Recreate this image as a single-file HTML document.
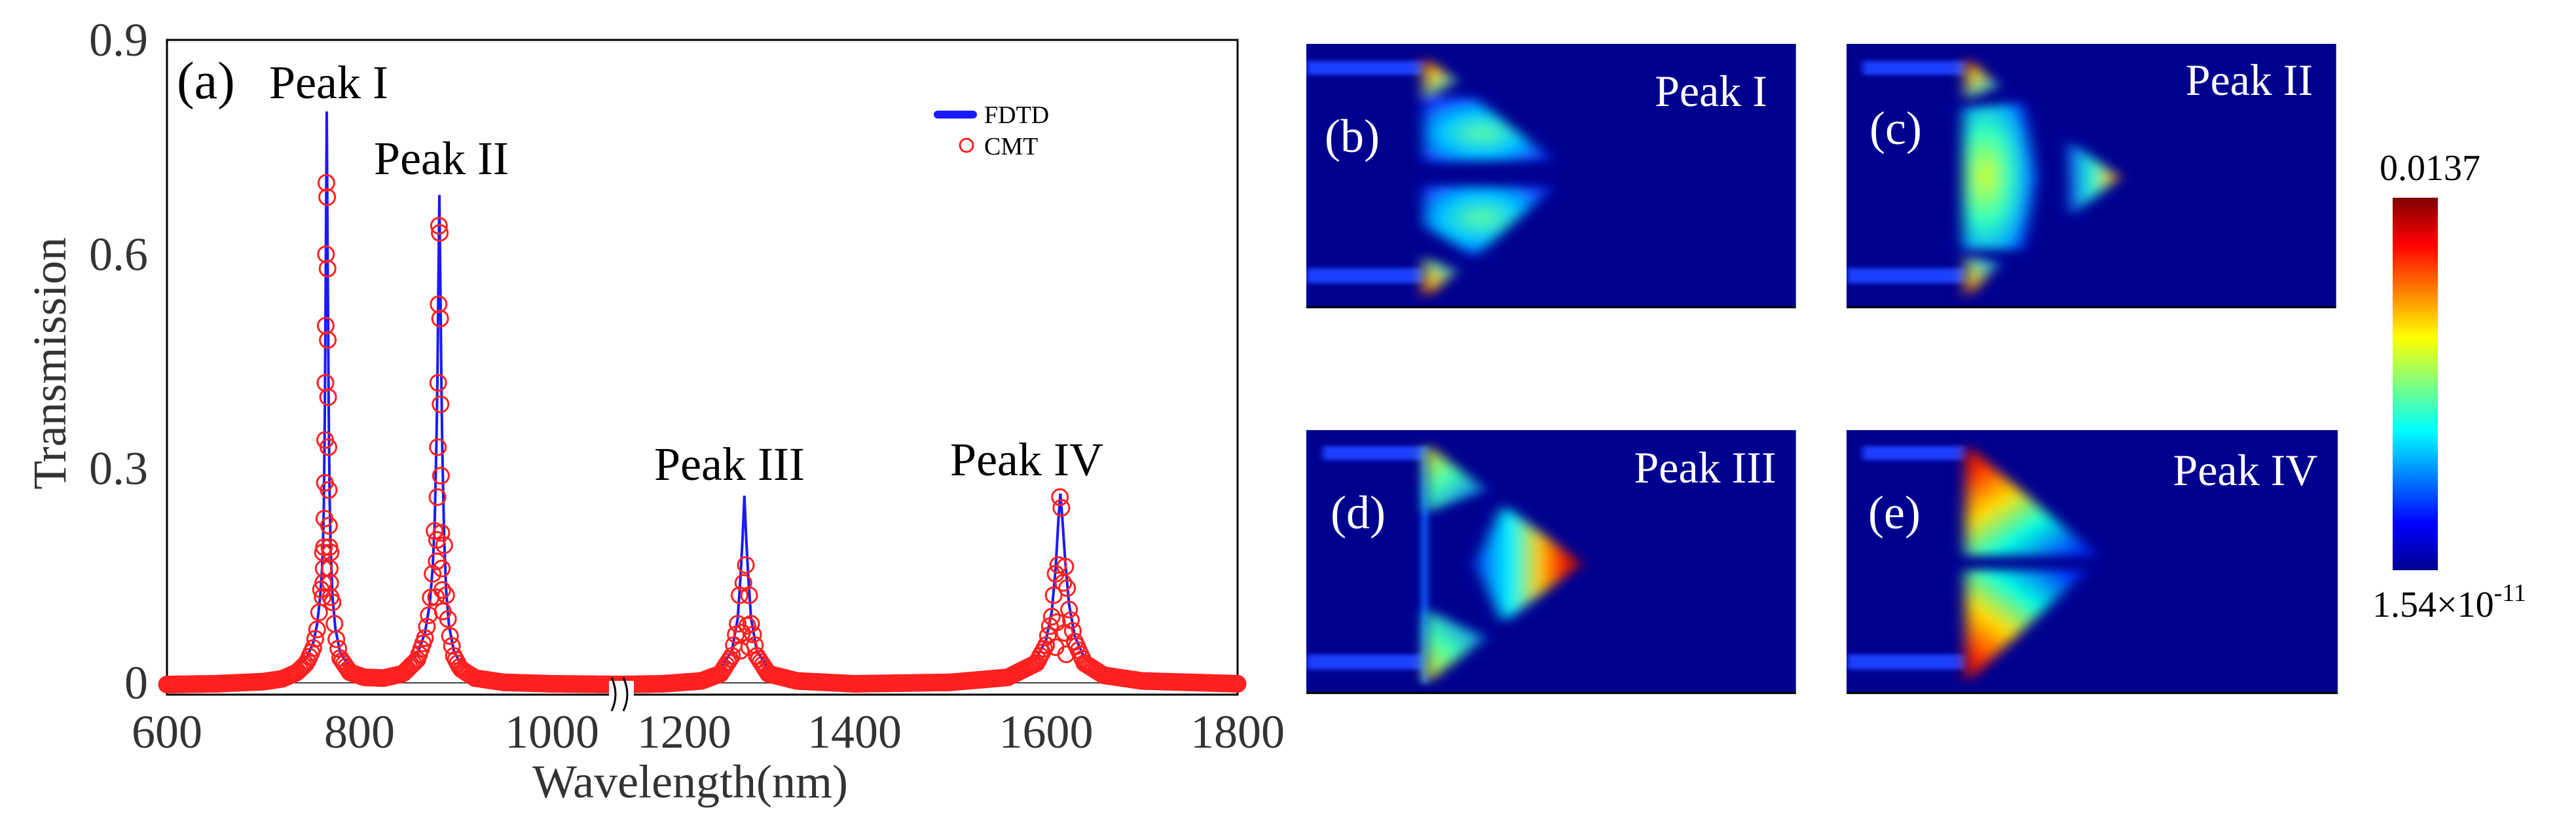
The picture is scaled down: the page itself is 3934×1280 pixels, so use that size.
<!DOCTYPE html>
<html><head><meta charset="utf-8"><style>
html,body{margin:0;padding:0;background:#fff;}
svg{display:block;font-family:"Liberation Serif",serif;}
</style></head><body>
<svg width="3934" height="1280" viewBox="0 0 3934 1280">
<defs>
<linearGradient id="jet" x1="0" y1="1" x2="0" y2="0">
<stop offset="0" stop-color="#00008f"/><stop offset="0.125" stop-color="#0000ff"/><stop offset="0.375" stop-color="#00ffff"/><stop offset="0.625" stop-color="#ffff00"/><stop offset="0.875" stop-color="#ff0000"/><stop offset="1" stop-color="#800000"/>
</linearGradient>
<filter id="bl" x="-40%" y="-40%" width="180%" height="180%"><feGaussianBlur stdDeviation="9"/></filter>
<filter id="bls" x="-40%" y="-40%" width="180%" height="180%"><feGaussianBlur stdDeviation="4"/></filter>
<radialGradient id="lobeB" cx="0.45" cy="0.55" r="0.6"><stop offset="0" stop-color="#60ffa0"/><stop offset="0.5" stop-color="#00c8ff"/><stop offset="1" stop-color="#1030ff"/></radialGradient>
<radialGradient id="lobeB2" cx="0.45" cy="0.45" r="0.6"><stop offset="0" stop-color="#60ffa0"/><stop offset="0.5" stop-color="#00c8ff"/><stop offset="1" stop-color="#1030ff"/></radialGradient>
<linearGradient id="tipTop" x1="0" y1="0" x2="0.6" y2="1"><stop offset="0" stop-color="#ff1000"/><stop offset="0.4" stop-color="#ffd000"/><stop offset="1" stop-color="#00c0ff"/></linearGradient>
<linearGradient id="tipBot" x1="0" y1="1" x2="0.6" y2="0"><stop offset="0" stop-color="#ff1000"/><stop offset="0.4" stop-color="#ffd000"/><stop offset="1" stop-color="#00c0ff"/></linearGradient>
<radialGradient id="bigC" cx="0.3" cy="0.5" r="0.7"><stop offset="0" stop-color="#e0ff20"/><stop offset="0.45" stop-color="#30ffc0"/><stop offset="0.8" stop-color="#00a0ff"/><stop offset="1" stop-color="#1020ff"/></radialGradient>
<linearGradient id="triC" x1="0" y1="0" x2="1" y2="0"><stop offset="0" stop-color="#1060ff"/><stop offset="0.5" stop-color="#20ffd0"/><stop offset="0.85" stop-color="#ffc000"/><stop offset="1" stop-color="#ff3000"/></linearGradient>
<linearGradient id="triD" x1="0" y1="0" x2="1" y2="0"><stop offset="0" stop-color="#0040ff"/><stop offset="0.35" stop-color="#00ffff"/><stop offset="0.6" stop-color="#ffd000"/><stop offset="0.8" stop-color="#ff2000"/><stop offset="1" stop-color="#a00000"/></linearGradient>
<linearGradient id="lobeDt" x1="0" y1="0" x2="0.7" y2="1"><stop offset="0" stop-color="#ffe000"/><stop offset="0.5" stop-color="#40ffb0"/><stop offset="1" stop-color="#0060ff"/></linearGradient>
<linearGradient id="lobeDb" x1="0" y1="1" x2="0.7" y2="0"><stop offset="0" stop-color="#ffe000"/><stop offset="0.5" stop-color="#40ffb0"/><stop offset="1" stop-color="#0060ff"/></linearGradient>
<linearGradient id="eTop" x1="0" y1="0" x2="0.8" y2="1"><stop offset="0" stop-color="#c00000"/><stop offset="0.2" stop-color="#ff3000"/><stop offset="0.45" stop-color="#ffe000"/><stop offset="0.7" stop-color="#00ffe0"/><stop offset="1" stop-color="#0030ff"/></linearGradient>
<linearGradient id="eBot" x1="0" y1="1" x2="0.8" y2="0"><stop offset="0" stop-color="#c00000"/><stop offset="0.2" stop-color="#ff3000"/><stop offset="0.45" stop-color="#ffe000"/><stop offset="0.7" stop-color="#00ffe0"/><stop offset="1" stop-color="#0030ff"/></linearGradient>
<clipPath id="pc"><rect x="0" y="0" width="598" height="493"/></clipPath>
</defs>

<!-- ===== Left chart ===== -->
<g>
<rect x="255" y="61" width="1635" height="1000" fill="none" stroke="#000" stroke-width="3"/>
<line x1="255" y1="1043" x2="1890" y2="1043" stroke="#444" stroke-width="2"/>
<g id="curves"></g>
<g id="ticks"></g>
<rect x="930" y="1040" width="38" height="40" fill="#fff"/>
<path d="M934 1035 Q946 1061 934 1086 M952 1035 Q964 1061 952 1086" fill="none" stroke="#000" stroke-width="3"/>
<text x="1054" y="1218" font-size="72" text-anchor="middle" fill="#333">Wavelength(nm)</text>
<text transform="translate(100,555) rotate(-90)" font-size="72" text-anchor="middle" fill="#333">Transmission</text>
<text x="270" y="150" font-size="80" fill="#000">(a)</text>
<text x="502" y="150" font-size="72" text-anchor="middle" fill="#000">Peak I</text>
<text x="674" y="266" font-size="72" text-anchor="middle" fill="#000">Peak II</text>
<text x="1114" y="733" font-size="72" text-anchor="middle" fill="#000">Peak III</text>
<text x="1568" y="726" font-size="72" text-anchor="middle" fill="#000">Peak IV</text>
<g>
<line x1="1432" y1="175" x2="1486" y2="175" stroke="#1a1aff" stroke-width="12" stroke-linecap="round"/>
<text x="1503" y="188" font-size="38" fill="#000">FDTD</text>
<circle cx="1476" cy="222" r="10" fill="none" stroke="#ff2020" stroke-width="3"/>
<text x="1503" y="236" font-size="38" fill="#000">CMT</text>
</g>
</g>

<!-- ===== Field panels ===== -->
<g transform="translate(1995,67) scale(1.2545,0.816)">
<g clip-path="url(#pc)"><rect width="596" height="493" fill="#00008f"/>
<g filter="url(#bls)"><rect x="0" y="32" width="143" height="26" fill="#1a40ff"/><rect x="0" y="420" width="143" height="28" fill="#1a40ff"/></g>
<g filter="url(#bl)">
<polygon points="143,24 143,105 183,70" fill="url(#tipTop)"/>
<polygon points="143,398 143,478 183,425" fill="url(#tipBot)"/>
<polygon points="143,100 205,100 300,218 143,222" fill="url(#lobeB)"/>
<polygon points="143,265 300,268 205,400 143,340" fill="url(#lobeB2)"/>
</g></g>
<line x1="0" y1="493" x2="596" y2="493" stroke="#000" stroke-width="4"/>
</g>
<g transform="translate(2820,67) scale(1.2545,0.816)">
<g clip-path="url(#pc)"><rect width="596" height="493" fill="#00008f"/>
<g filter="url(#bls)"><rect x="20" y="32" width="125" height="26" fill="#1a40ff"/><rect x="0" y="420" width="145" height="28" fill="#1a40ff"/></g>
<g filter="url(#bl)">
<polygon points="145,24 145,105 185,80" fill="url(#tipTop)"/>
<polygon points="145,398 145,478 185,410" fill="url(#tipBot)"/>
<polygon points="142,120 215,110 232,250 215,385 142,385" fill="url(#bigC)"/>
<polygon points="270,180 332,250 273,322" fill="url(#triC)"/>
</g></g>
<line x1="0" y1="493" x2="596" y2="493" stroke="#000" stroke-width="4"/>
</g>
<g transform="translate(1995,657) scale(1.2545,0.816)">
<g clip-path="url(#pc)"><rect width="596" height="493" fill="#00008f"/>
<g filter="url(#bls)"><rect x="20" y="30" width="125" height="26" fill="#1a40ff"/><rect x="0" y="420" width="145" height="28" fill="#1a40ff"/>
<rect x="140" y="30" width="8" height="445" fill="#1060ff"/></g>
<g filter="url(#bl)">
<polygon points="145,25 218,112 145,155" fill="url(#lobeDt)"/>
<polygon points="145,335 218,388 145,475" fill="url(#lobeDb)"/>
<polygon points="240,140 335,250 240,360 205,250" fill="url(#triD)"/>
</g></g>
<line x1="0" y1="492" x2="596" y2="492" stroke="#000" stroke-width="4"/>
</g>
<g transform="translate(2820,657) scale(1.2545,0.816)">
<g clip-path="url(#pc)"><rect width="598" height="493" fill="#00008f"/>
<g filter="url(#bls)"><rect x="20" y="30" width="125" height="26" fill="#1a40ff"/><rect x="0" y="420" width="145" height="28" fill="#1a40ff"/></g>
<g filter="url(#bl)">
<polygon points="145,25 305,235 145,235" fill="url(#eTop)"/>
<polygon points="145,262 292,262 145,475" fill="url(#eBot)"/>
</g></g>
<line x1="0" y1="492" x2="598" y2="492" stroke="#000" stroke-width="4"/>
</g>

<g fill="#fff" font-size="68">
<text x="2613" y="162" text-anchor="middle">Peak I</text>
<text x="2065" y="232" text-anchor="middle" font-size="72">(b)</text>
<text x="3435" y="145" text-anchor="middle">Peak II</text>
<text x="2895" y="220" text-anchor="middle" font-size="72">(c)</text>
<text x="2604" y="737" text-anchor="middle">Peak III</text>
<text x="2074" y="807" text-anchor="middle" font-size="72">(d)</text>
<text x="3429" y="741" text-anchor="middle">Peak IV</text>
<text x="2893" y="807" text-anchor="middle" font-size="72">(e)</text>
</g>

<g>
<rect x="3654" y="302" width="69" height="569" fill="url(#jet)"/>
<text x="3711" y="275" font-size="56" text-anchor="middle" fill="#000">0.0137</text>
<text x="3623" y="942" font-size="56" fill="#000">1.54×10<tspan dy="-24" font-size="38">-11</tspan></text>
</g>
</svg>
<script>
const fdtdLam = [600,650,700,720,735,745,752,756,759,761,762,763,764,765,766,767,768,769,770,772,775,780,790,805,825,845,860,868,873,876,878,880,881,882,883,884,885,886,888,890,893,898,905,920,950,1000,1071,
1155,1200,1240,1260,1272,1278,1281,1283,1285,1287,1289,1292,1298,1310,1340,1400,1500,1560,1590,1600,1606,1610,1613,1615,1617,1620,1624,1630,1640,1660,1700,1800];
const fdtdT = [.005,.006,.009,.013,.022,.035,.056,.082,.118,.158,.19,.25,.38,.58,.80,.58,.38,.26,.19,.12,.075,.042,.022,.015,.014,.02,.04,.07,.11,.16,.22,.34,.43,.56,.683,.56,.43,.33,.2,.13,.08,.045,.027,.014,.008,.006,.005,
.005,.006,.01,.02,.045,.09,.15,.2,.262,.2,.15,.09,.045,.02,.01,.006,.008,.015,.035,.06,.1,.16,.23,.265,.23,.17,.11,.065,.035,.018,.01,.006];
const cmtPeakLam = [765.6,766.4,765.2,766.8,764.9,767.1,764.6,767.4,764.3,767.7,764.0,768.0,763.6,768.3,763.2,768.7,762.8,769.1,762.3,769.5,761.8,770.0,
882.6,883.4,882.2,883.8,881.8,884.2,881.4,884.6,881.0,885.0,880.6,885.5,880.2,886.0,879.6,886.6,
1284,1286.5,1282.5,1288,1281,1290,
1614.5,1616,1612.8,1618,1611.5,1619.5,1610,1621];
const cmtPeakT = [.70,.68,.60,.58,.50,.48,.42,.40,.34,.33,.28,.27,.23,.22,.19,.19,.16,.16,.14,.14,.12,.12,
.64,.63,.53,.51,.42,.39,.33,.29,.26,.21,.20,.16,.17,.13,.12,.10,
.14,.165,.07,.08,.045,.05,
.26,.245,.165,.14,.085,.07,.05,.04];
const xTicks = [600,800,1000,1200,1400,1600,1800];
const xTickLabelPos = [600,800,1000,1222,1400,1600,1800];
const yTicks = [0,0.3,0.6,0.9];
const yTickLabels = ["0","0.3","0.6","0.9"];

const NS = "http://www.w3.org/2000/svg";
const BREAK_L = 1071, BREAK_R = 1155;
function xs(l){ return l <= 1110 ? 255 + (l-600)*1.47 : 1012.5 + (l-1200)*1.4625; }
function ys(v){ return 1043 - v*1091; }
function interp(l){
  for(let i=0;i<fdtdLam.length-1;i++){
    if(l>=fdtdLam[i] && l<=fdtdLam[i+1]){
      const t=(l-fdtdLam[i])/(fdtdLam[i+1]-fdtdLam[i]); return fdtdT[i]+t*(fdtdT[i+1]-fdtdT[i]);
    }
  }
  return fdtdT[fdtdT.length-1];
}
const g = document.getElementById('curves');
[[0, fdtdLam.indexOf(BREAK_L)], [fdtdLam.indexOf(BREAK_R), fdtdLam.length-1]].forEach(function(seg,k){
  let d='';
  for(let i=seg[0];i<=seg[1];i++){ d += (i===seg[0]?'M':'L') + xs(fdtdLam[i]).toFixed(1) + ' ' + ys(fdtdT[i]).toFixed(1) + ' '; }
  const p=document.createElementNS(NS,'path');
  p.setAttribute('d',d); p.setAttribute('fill','none'); p.setAttribute('stroke','#1a1aff'); p.setAttribute('stroke-width','4');
  
  
  g.appendChild(p);
});
const peaks=[766,883,1285,1615];
for(let l=600;l<=1800;l+=2){
  if(l>BREAK_L && l<BREAK_R) continue;
  if(peaks.some(function(p){return Math.abs(l-p)<4;})) continue;
  const c=document.createElementNS(NS,'circle');
  c.setAttribute('cx',xs(l).toFixed(1)); c.setAttribute('cy',(ys(interp(l))+8).toFixed(1)); c.setAttribute('r','12');
  c.setAttribute('fill','none'); c.setAttribute('stroke','#ff2020'); c.setAttribute('stroke-width','3');
  
  
  g.appendChild(c);
}
for(let i=0;i<cmtPeakLam.length;i++){
  const c=document.createElementNS(NS,'circle');
  c.setAttribute('cx',xs(cmtPeakLam[i]).toFixed(1)); c.setAttribute('cy',ys(cmtPeakT[i]).toFixed(1)); c.setAttribute('r','12');
  c.setAttribute('fill','none'); c.setAttribute('stroke','#ff2020'); c.setAttribute('stroke-width','3');
  
  
  g.appendChild(c);
}
const tg=document.getElementById('ticks');
xTicks.forEach(function(v,i){
  const t=document.createElementNS(NS,'text');
  t.setAttribute('x',xs(xTickLabelPos[i]).toFixed(1)); t.setAttribute('y','1142');
  t.setAttribute('font-size','72'); t.setAttribute('text-anchor','middle'); t.setAttribute('fill','#333');
  t.textContent=String(v);
  
  
  tg.appendChild(t);
});
yTicks.forEach(function(v,i){
  const t=document.createElementNS(NS,'text');
  t.setAttribute('x','226'); t.setAttribute('y',(ys(v)+24).toFixed(1));
  t.setAttribute('font-size','72'); t.setAttribute('text-anchor','end'); t.setAttribute('fill','#333');
  t.textContent=yTickLabels[i];
  
  
  tg.appendChild(t);
});
</script>
</body></html>
